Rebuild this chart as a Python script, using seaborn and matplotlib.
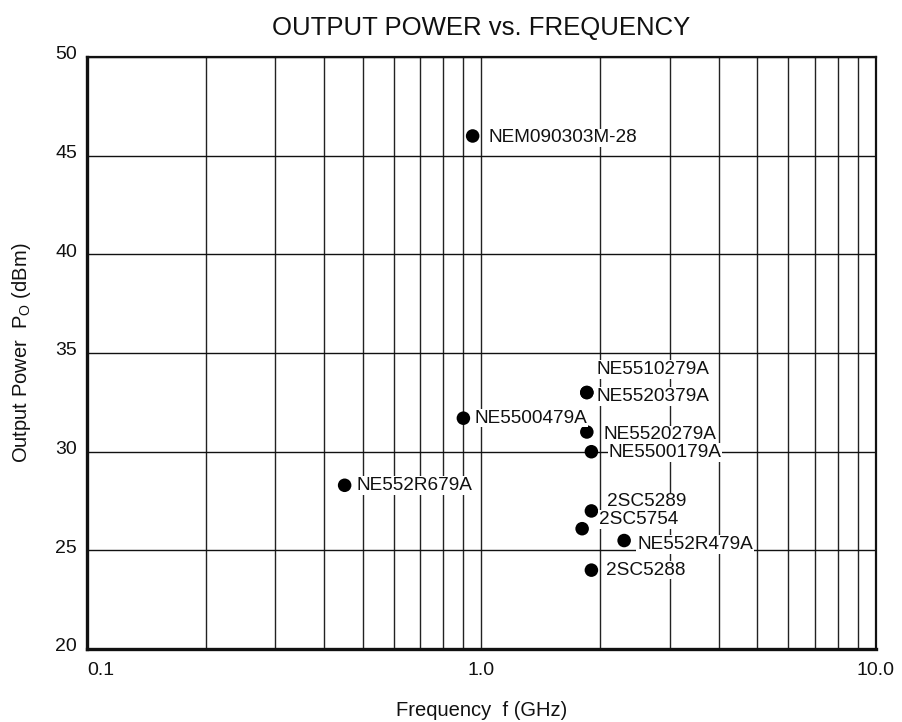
import numpy as np
import pandas as pd
import matplotlib
matplotlib.use("Agg")
import matplotlib.pyplot as plt
import matplotlib.ticker as mticker
import matplotlib.transforms as mtransforms
import seaborn as sns

# device data
devices = ['NEM090303M-28', 'NE5510279A', 'NE5520379A', 'NE5500479A', 'NE5520279A',
           'NE5500179A', 'NE552R679A', '2SC5289', '2SC5754', 'NE552R479A', '2SC5288']
freq_ghz = [0.95, 1.85, 1.85, 0.9, 1.85, 1.9, 0.45, 1.9, 1.8, 2.3, 1.9]
power_dbm = [46.0, 33.0, 33.0, 31.7, 31.0, 30.0, 28.3, 27.0, 26.1, 25.5, 24.0]

x_ticks = [0.1, 1.0, 10.0]
x_ticklabels = ['0.1', '1.0', '10.0']
y_ticks = [20, 25, 30, 35, 40, 45, 50]

df = pd.DataFrame({'device': devices, 'f': freq_ghz, 'po': power_dbm})

# label offsets in pixels (dx, dy) from each dot
label_offsets = {
    'NEM090303M-28': (16, -2), 'NE5510279A': (10, 23), 'NE5520379A': (10, -4),
    'NE5500479A': (11, 0), 'NE5520279A': (17, -3), 'NE5500179A': (17, -1),
    'NE552R679A': (12, 0), '2SC5289': (16, 9), '2SC5754': (17, 9),
    'NE552R479A': (13, -4), '2SC5288': (15, 0),
}

sns.set_style('white')
plt.rcParams['font.family'] = ['Liberation Sans', 'DejaVu Sans']

fig = plt.figure(figsize=(9.03, 7.22), dpi=100)
ax = fig.add_axes([0.0963, 0.101, 0.8737, 0.820])

sns.scatterplot(data=df, x='f', y='po', color='black', s=95, edgecolor='none',
                ax=ax, zorder=3, legend=False)

ax.set_xscale('log')
ax.set_xlim(0.1, 10)
ax.set_ylim(20, 50)

ax.xaxis.set_major_locator(mticker.FixedLocator(x_ticks))
ax.xaxis.set_major_formatter(mticker.FixedFormatter(x_ticklabels))
ax.xaxis.set_minor_locator(mticker.LogLocator(base=10, subs=np.arange(2, 10)))
ax.xaxis.set_minor_formatter(mticker.NullFormatter())
ax.set_yticks(y_ticks)

ax.grid(True, which='both', axis='x', color='#222222', linewidth=1)
ax.grid(True, which='major', axis='y', color='#111111', linewidth=1)
ax.tick_params(axis='both', which='both', length=0, labelsize=14, colors='#111111')
ax.tick_params(axis='x', pad=9)
ax.tick_params(axis='y', pad=7)

# y tick labels sit a little above their gridlines in the original
shift_up = mtransforms.ScaledTranslation(0, 3 / 72, fig.dpi_scale_trans)
for lbl in ax.get_yticklabels():
    lbl.set_transform(lbl.get_transform() + shift_up)
ax.get_xticklabels()[0].set_horizontalalignment('left')

for side in ['top', 'right']:
    ax.spines[side].set_linewidth(1.6)
    ax.spines[side].set_color('#111111')
for side in ['left', 'bottom']:
    ax.spines[side].set_linewidth(2.4)
    ax.spines[side].set_color('#111111')

for name, f, p in zip(devices, freq_ghz, power_dbm):
    dx, dy = label_offsets[name]
    ax.annotate(name, (f, p), xytext=(dx, dy), textcoords='offset pixels',
                ha='left', va='center', fontsize=13.7, color='#111111', zorder=4,
                bbox=dict(facecolor='white', edgecolor='none', pad=0.5))

ax.set_title('OUTPUT POWER vs. FREQUENCY', fontsize=18.5, pad=16, color='#111111')
ax.set_xlabel('Frequency  f (GHz)', fontsize=14.5, labelpad=16, color='#111111')
ax.set_ylabel(r'Output Power  P$_\mathregular{O}$ (dBm)', fontsize=14.5, labelpad=16,
              color='#111111')

fig.savefig('out.png', dpi=100)
